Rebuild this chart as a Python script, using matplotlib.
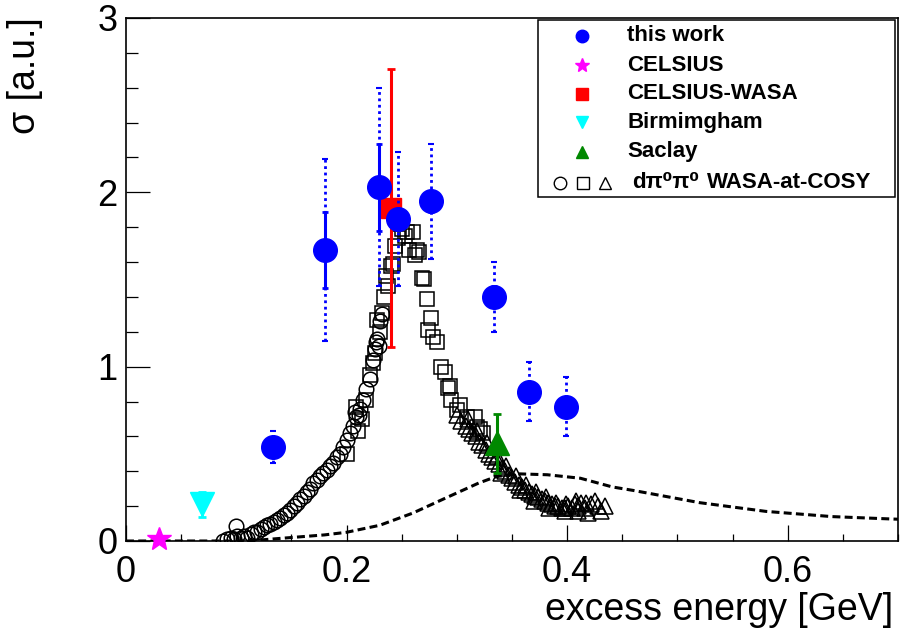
import numpy as np
import matplotlib
matplotlib.use("Agg")
import matplotlib.pyplot as plt
from matplotlib.patches import Rectangle
from matplotlib.ticker import MultipleLocator

plt.rcParams['font.family'] = ['Liberation Sans', 'DejaVu Sans']

# this work
tw_x = [0.133, 0.180, 0.229, 0.247, 0.277, 0.334, 0.365, 0.399]
tw_y = [0.54, 1.67, 2.03, 1.845, 1.95, 1.40, 0.856, 0.77]
tw_stat = [0.05, 0.22, 0.25, 0.06, 0.06, 0.06, 0.05, 0.05]
tw_sys = [0.09, 0.52, 0.57, 0.385, 0.33, 0.20, 0.17, 0.17]

# other experiments
celsius_x, celsius_y = [0.030], [0.01]
cwasa_x, cwasa_y, cwasa_err = [0.240], [1.91], [0.80]
birm_x, birm_y, birm_err = [0.069], [0.21], [0.07]
saclay_x, saclay_y, saclay_err = [0.336], [0.56], [0.17]

# WASA-at-COSY d pi0 pi0 (three data sets)
circ_x = [0.088, 0.092, 0.095, 0.098, 0.100, 0.101, 0.104, 0.107, 0.110, 0.113,
          0.116, 0.119, 0.122, 0.125, 0.128, 0.131, 0.134, 0.137, 0.140, 0.143,
          0.146, 0.149, 0.152, 0.155, 0.158, 0.161, 0.164, 0.167, 0.170, 0.173,
          0.176, 0.179, 0.182, 0.185, 0.188, 0.191, 0.194, 0.197, 0.200, 0.203,
          0.206, 0.209, 0.212, 0.215, 0.218, 0.221, 0.224, 0.226, 0.228, 0.230,
          0.232, 0.208, 0.211, 0.227, 0.229]
circ_y = [0.00, 0.01, 0.02, 0.01, 0.085, 0.03, 0.02, 0.03, 0.02, 0.04,
          0.05, 0.05, 0.07, 0.08, 0.09, 0.10, 0.11, 0.12, 0.13, 0.15,
          0.16, 0.18, 0.20, 0.22, 0.24, 0.26, 0.28, 0.30, 0.33, 0.35,
          0.37, 0.39, 0.41, 0.43, 0.45, 0.48, 0.50, 0.54, 0.58, 0.62,
          0.66, 0.71, 0.76, 0.81, 0.87, 0.93, 1.04, 1.10, 1.16, 1.26,
          1.30, 0.74, 0.72, 1.14, 1.12]

sq_x = [0.200, 0.209, 0.210, 0.214, 0.218, 0.221, 0.224, 0.226, 0.228, 0.230,
        0.232, 0.234, 0.236, 0.238, 0.240, 0.242, 0.244, 0.247, 0.250, 0.253,
        0.255, 0.257, 0.260, 0.262, 0.264, 0.266, 0.268, 0.270, 0.273, 0.274,
        0.277, 0.278, 0.282, 0.286, 0.289, 0.292, 0.294, 0.295, 0.300, 0.303,
        0.309, 0.316, 0.318, 0.321, 0.324]
sq_y = [0.50, 0.77, 0.63, 0.70, 0.81, 0.95, 1.02, 1.08, 1.27, 1.20,
        1.31, 1.40, 1.52, 1.46, 1.58, 1.59, 1.69, 1.74, 1.79, 1.75,
        1.77, 1.67, 1.77, 1.64, 1.67, 1.66, 1.51, 1.50, 1.39, 1.21,
        1.28, 1.17, 1.14, 1.00, 0.97, 0.88, 0.89, 0.81, 0.75, 0.78,
        0.71, 0.71, 0.655, 0.64, 0.62]

tri_x = [0.300, 0.304, 0.308, 0.311, 0.314, 0.317, 0.320, 0.323, 0.326, 0.329,
         0.332, 0.335, 0.338, 0.341, 0.344, 0.347, 0.350, 0.353, 0.356, 0.359,
         0.362, 0.365, 0.368, 0.371, 0.374, 0.377, 0.380, 0.383, 0.386, 0.389,
         0.392, 0.395, 0.398, 0.401, 0.404, 0.407, 0.410, 0.413, 0.416, 0.419,
         0.422, 0.425, 0.428, 0.431, 0.434,
         0.310, 0.318, 0.327, 0.336, 0.345, 0.354, 0.363, 0.372, 0.381, 0.390,
         0.399, 0.408, 0.417, 0.340, 0.357, 0.370, 0.384, 0.398, 0.410]
tri_y = [0.72, 0.69, 0.66, 0.64, 0.62, 0.60, 0.57, 0.55, 0.52, 0.50,
         0.48, 0.46, 0.44, 0.42, 0.40, 0.38, 0.36, 0.34, 0.32, 0.31,
         0.29, 0.28, 0.27, 0.26, 0.25, 0.24, 0.23, 0.22, 0.21, 0.20,
         0.20, 0.19, 0.19, 0.20, 0.19, 0.21, 0.20, 0.22, 0.19, 0.16,
         0.21, 0.23, 0.20, 0.17, 0.20,
         0.70, 0.63, 0.56, 0.49, 0.43, 0.37, 0.32, 0.28, 0.25, 0.22,
         0.21, 0.23, 0.22, 0.39, 0.29, 0.23, 0.19, 0.17, 0.17]

# dashed curve
dash_x = [0.0, 0.10, 0.12, 0.15, 0.18, 0.20, 0.23, 0.26, 0.29, 0.32, 0.336,
          0.357, 0.382, 0.412, 0.441, 0.46, 0.52, 0.58, 0.64, 0.695, 0.70]
dash_y = [0.0, 0.0, 0.005, 0.02, 0.035, 0.05, 0.09, 0.16, 0.247, 0.333, 0.37,
          0.385, 0.38, 0.36, 0.31, 0.29, 0.22, 0.17, 0.14, 0.126, 0.125]

fig = plt.figure(figsize=(9, 6.3), dpi=100)
ax = fig.add_axes([126/900, 1 - 541/630, 772/900, 523/630])

ax.plot(dash_x, dash_y, color='black', lw=2.2, linestyle=(0, (2.6, 1.4)), zorder=2)

open_kw = dict(linestyle='none', markerfacecolor='none', markeredgecolor='black',
               markeredgewidth=1.1, zorder=3)
ax.plot(circ_x, circ_y, marker='o', markersize=10.5, **open_kw)
ax.plot(sq_x, sq_y, marker='s', markersize=9.5, **open_kw)
ax.plot(tri_x, tri_y, marker='^', markersize=11, **open_kw)

ax.plot(celsius_x, celsius_y, marker='*', markersize=18, color='#ff00ff',
        linestyle='none', zorder=4, clip_on=False)
ax.errorbar(birm_x, birm_y, yerr=birm_err, fmt='v', color='#00ffff', markersize=17,
            elinewidth=2, capsize=3, capthick=2, zorder=4)
ax.errorbar(saclay_x, saclay_y, yerr=saclay_err, fmt='^', color='#008800', markersize=17,
            elinewidth=2.2, capsize=3, capthick=2, zorder=4)
ax.errorbar(cwasa_x, cwasa_y, yerr=cwasa_err, fmt='s', color='red', markersize=15,
            elinewidth=2.2, capsize=3, capthick=2, zorder=4)

sys_eb = ax.errorbar(tw_x, tw_y, yerr=tw_sys, fmt='none', ecolor='blue',
                     elinewidth=2, capsize=2.5, capthick=1.5, zorder=5)
sys_eb[2][0].set_linestyle((0, (1, 1.3)))
ax.errorbar(tw_x, tw_y, yerr=tw_stat, fmt='o', color='blue', markersize=17,
            elinewidth=2.2, capsize=2, capthick=2, zorder=6)

ax.set_xlim(0, 0.7)
ax.set_ylim(0, 3)
ax.set_xticks([0, 0.2, 0.4, 0.6])
ax.set_xticklabels(['0', '0.2', '0.4', '0.6'])
ax.set_yticks([0, 1, 2, 3])
ax.set_yticklabels(['0', '1', '2', '3'])
ax.xaxis.set_minor_locator(MultipleLocator(0.05))
ax.yaxis.set_minor_locator(MultipleLocator(0.2))
ax.tick_params(which='both', direction='in', top=False, right=False, width=0.9,
               labelsize=26)
ax.tick_params(axis='x', which='major', length=11.5, pad=10)
ax.tick_params(axis='x', which='minor', length=5)
ax.tick_params(axis='y', which='major', length=17, pad=6)
ax.tick_params(axis='y', which='minor', length=8.6)
for sp in ax.spines.values():
    sp.set_linewidth(1.2)

fig.text(893/900, 1 - 620/630, 'excess energy [GeV]', fontsize=27, ha='right', va='baseline')
fig.text(25/900, 1 - 17/630, 'σ [a.u.]', fontsize=27, rotation=90, ha='center', va='top')

# legend
ax.add_patch(Rectangle((0.534, 0.658), 0.462, 0.338, transform=ax.transAxes,
                       facecolor='white', edgecolor='black', lw=1.1, zorder=10))
rows_y = [0.966, 0.910, 0.855, 0.801, 0.744]
leg_marks = [('o', 'blue', 9), ('*', '#ff00ff', 10), ('s', 'red', 8),
             ('v', '#00ffff', 9), ('^', '#008800', 9)]
leg_labels = ['this work', 'CELSIUS', 'CELSIUS-WASA', 'Birmimgham', 'Saclay']
for yy, (m, c, s), lab in zip(rows_y, leg_marks, leg_labels):
    ax.plot([0.591], [yy], marker=m, color=c, markersize=s, transform=ax.transAxes,
            clip_on=False, zorder=11)
    ax.text(0.649, yy, lab, transform=ax.transAxes, fontsize=16, fontweight='bold',
            va='center', ha='left', zorder=11)
for xx, m in zip([0.562, 0.592, 0.620], ['o', 's', '^']):
    ax.plot([xx], [0.685], marker=m, markersize=9, markerfacecolor='none',
            markeredgecolor='black', markeredgewidth=1.0, transform=ax.transAxes,
            clip_on=False, zorder=11)
ax.text(0.655, 0.685, 'dπ⁰π⁰', transform=ax.transAxes, fontsize=16,
        fontweight='bold', va='center', ha='left', zorder=11)
ax.text(0.753, 0.685, 'WASA-at-COSY', transform=ax.transAxes, fontsize=16,
        fontweight='bold', va='center', ha='left', zorder=11)

fig.savefig('out.png', dpi=100)
